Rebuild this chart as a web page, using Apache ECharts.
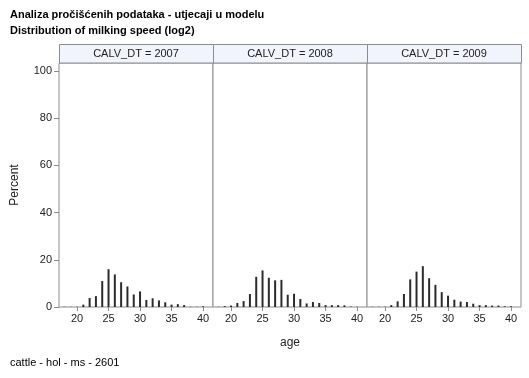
<!DOCTYPE html>
<html><head><meta charset="utf-8">
<script src="https://cdn.jsdelivr.net/npm/echarts@6/dist/echarts.min.js"></script>
<style>html,body{margin:0;padding:0;background:#fff}#c{width:529px;height:378px}</style>
</head><body><div id="c"></div>
<script>
const ages = [18,19,20,21,22,23,24,25,26,27,28,29,30,31,32,33,34,35,36,37,38,39,40];
const p2007 = [0.1,0.1,0.1,1.0,3.8,4.6,11.0,16.0,13.8,10.5,8.7,5.3,6.6,3.0,3.7,2.8,2.0,1.0,1.2,0.8,0.1,0.1,0.3];
const p2008 = [0.1,0.4,0.6,1.7,2.5,5.5,12.8,15.5,12.4,11.3,11.5,5.2,5.6,3.4,1.5,2.1,1.7,0.8,0.8,0.8,0.7,0.2,0.1];
const p2009 = [0.1,0.1,0.1,0.8,2.4,5.5,11.7,15.0,17.3,12.2,9.4,6.3,4.8,3.1,2.3,2.1,1.4,0.8,0.8,0.6,0.6,0.3,0.3];
const panels = ['CALV_DT = 2007','CALV_DT = 2008','CALV_DT = 2009'];
const xTicks = [20,25,30,35,40];
const yTicks = [0,20,40,60,80,100];

const FONT = 'Liberation Sans, Arial, sans-serif';
const series = [p2007,p2008,p2009];
const L = 59, W = 154, T = 63, H = 244;
const grids = [], xAxes = [], yAxes = [], ser = [], gfx = [];
panels.forEach((p,i)=>{
  grids.push({left:L+i*W, top:T, width:W, height:H, show:true, borderColor:'#8c8c8c', borderWidth:1, backgroundColor:'#fff'});
  xAxes.push({type:'value', gridIndex:i, min:17.14, max:41.58,
    axisLine:{show:false}, splitLine:{show:false},
    axisTick:{show:true, length:4, lineStyle:{color:'#8c8c8c'}, customValues:xTicks},
    axisLabel:{show:true, color:'#222', fontSize:11, fontFamily:FONT, margin:6, customValues:xTicks}});
  yAxes.push({type:'value', gridIndex:i, min:0, max:103.4,
    axisLine:{show:false}, splitLine:{show:false},
    axisTick:{show:i===0, length:5, lineStyle:{color:'#8c8c8c'}, customValues:yTicks},
    axisLabel:{show:i===0, color:'#222', fontSize:11, fontFamily:FONT, margin:7, customValues:yTicks}});
  ser.push({type:'bar', xAxisIndex:i, yAxisIndex:i, barWidth:2,
    itemStyle:{color:'#2b2b2b'}, data: ages.map((a,k)=>[a, series[i][k]]), silent:true});
  gfx.push({type:'rect', shape:{x:L+i*W+0.5, y:44.5, width:W, height:18.5},
    style:{fill:'#f1f4fc', stroke:'#8c8c8c', lineWidth:1}});
  gfx.push({type:'text', x:L+i*W+W/2, y:54, style:{text:p, fill:'#222', font:'11px '+FONT, textAlign:'center', textVerticalAlign:'middle'}});
});
gfx.push({type:'text', x:10, y:15, style:{text:'Analiza pročišćenih podataka - utjecaji u modelu', fill:'#000', font:'bold 11px '+FONT, textVerticalAlign:'middle'}});
gfx.push({type:'text', x:10, y:31, style:{text:'Distribution of milking speed (log2)', fill:'#000', font:'bold 11px '+FONT, textVerticalAlign:'middle'}});
gfx.push({type:'text', x:290, y:343, style:{text:'age', fill:'#222', font:'12px '+FONT, textAlign:'center', textVerticalAlign:'middle'}});
gfx.push({type:'text', x:15, y:185, rotation:Math.PI/2, style:{text:'Percent', fill:'#222', font:'12px '+FONT, textAlign:'center', textVerticalAlign:'middle'}});
gfx.push({type:'text', x:10, y:363, style:{text:'cattle - hol - ms - 2601', fill:'#000', font:'11px '+FONT, textVerticalAlign:'middle'}});

const chart = echarts.init(document.getElementById('c'), null, {renderer:'canvas'});
chart.setOption({animation:false, backgroundColor:'#fff', grid:grids, xAxis:xAxes, yAxis:yAxes, series:ser, graphic:gfx});
</script></body></html>
